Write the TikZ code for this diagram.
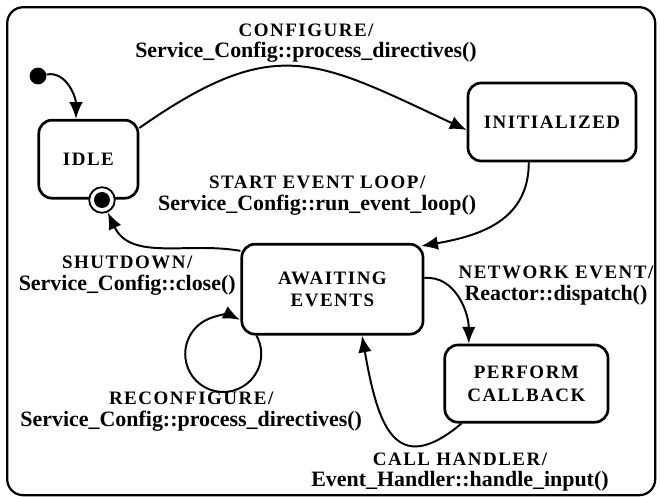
\documentclass[tikz,border=0pt]{standalone}
\usepackage{fontspec}
\setmainfont{Liberation Serif}
\newfontfamily\capsfont[LetterSpace=8]{Liberation Serif}
\usetikzlibrary{positioning,arrows.meta,calc}
\tikzset{
statenode/.style={rectangle, rounded corners=0.33cm, draw=black, line width=1.9pt, align=center,
                  font=\capsfont\bfseries\fontsize{13.5pt}{16pt}\selectfont},
dotnode/.style={circle, fill=black, inner sep=0pt, minimum size=0.42cm},
finalnode/.style={circle, draw=black, line width=1.3pt, fill=white, inner sep=0pt, minimum size=0.64cm,
                  path picture={\fill[black] (path picture bounding box.center) circle (0.2cm);}},
labelnode/.style={align=center, inner sep=0pt, font=\bfseries\fontsize{15.6pt}{15.5pt}\selectfont},
transition/.style={->, line width=1.4pt},
>={Latex[width=3.4mm,length=4.2mm]},
}
\newcommand{\capline}[1]{{\capsfont\fontsize{13.5pt}{15.5pt}\selectfont #1}}

\begin{document}
\begin{tikzpicture}
\useasboundingbox (0,0) rectangle (16.5,-12.425);
\draw[line width=1.6pt, rounded corners=0.4cm] (0.18,-0.18) rectangle (16.38,-12.38);

%State nodes
\node[statenode, minimum width=2.48cm, minimum height=1.95cm] (idle) at(2.21,-3.98) {IDLE};
\node[statenode, minimum width=4.2cm, minimum height=1.95cm] (initialized) at(13.8,-3.05) {INITIALIZED};
\node[statenode, minimum width=4.53cm, minimum height=2.25cm] (awaiting) at(8.31,-7.23) {AWAITING\\EVENTS};
\node[statenode, minimum width=4.08cm, minimum height=1.93cm] (perform) at(13.16,-9.59) {PERFORM\\CALLBACK};
\node[dotnode] (init) at(0.95,-1.9) {};
\node[finalnode] (final) at(2.55,-5.0) {};

%Transition labels
\node[labelnode] (cfgLbl) at(7.65,-1.08) {\capline{CONFIGURE/}\\Service\_Config::process\_directives()};
\node[labelnode] (startLbl) at(7.93,-4.9) {\capline{START EVENT LOOP/}\\Service\_Config::run\_event\_loop()};
\node[labelnode] (shutLbl) at(3.18,-6.9) {\capline{SHUTDOWN/}\\Service\_Config::close()};
\node[labelnode] (netLbl) at(13.9,-7.13) {\capline{NETWORK EVENT/}\\Reactor::dispatch()};
\node[labelnode] (reconfLbl) at(4.78,-10.3) {\capline{RECONFIGURE/}\\Service\_Config::process\_directives()};
\node[labelnode] (callLbl) at(11.5,-11.8) {\capline{CALL HANDLER/}\\Event\_Handler::handle\_input()};

%Transitions
\draw[transition] (init) to[out=10,in=90] ([xshift=-0.31cm]idle.north);
\draw[transition] ([yshift=0.78cm]idle.east) to[out=35,in=155,looseness=1.3] ([yshift=-0.2cm]initialized.west);
\draw[transition] ([xshift=-0.58cm]initialized.south) to[out=-90,in=10,looseness=1.1] ([xshift=-0.08cm,yshift=-0.08cm]awaiting.north east);
\draw[transition] ([yshift=-0.2cm]awaiting.north west) to[out=170,in=-65] (final);
\draw[transition] ([xshift=0.4cm]awaiting.south west) arc[start angle=29, end angle=-296, radius=0.95cm];
\draw[transition] ([yshift=0.28cm]awaiting.east) to[out=5,in=90] ([xshift=-1.44cm]perform.north);
\draw[transition] ([xshift=0.45cm]perform.south west) to[out=-140,in=-80,looseness=1.7] ([xshift=0.74cm]awaiting.south);

\end{tikzpicture}
\end{document}
